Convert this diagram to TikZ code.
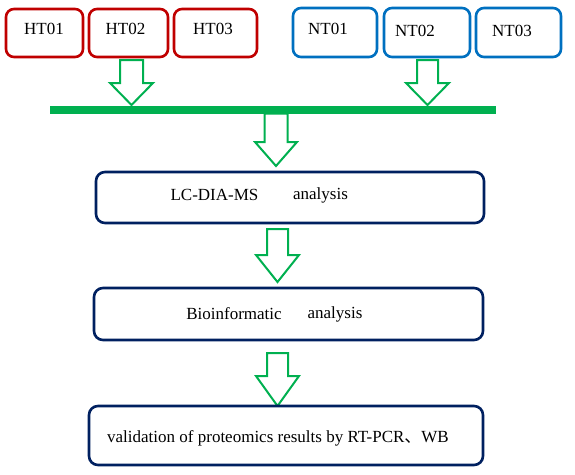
\documentclass[tikz,border=0pt]{standalone}
\usepackage{fontspec}
\setmainfont{Liberation Serif}
\newfontfamily\cjk{Noto Sans CJK SC}
\definecolor{htred}{HTML}{C00000}
\definecolor{ntblue}{HTML}{0070C0}
\definecolor{navy}{HTML}{002060}
\definecolor{grn}{HTML}{00B050}
\newcommand{\blockarrow}[6]{% x, ytop, yhead, ytip, half shaft, half head
  \draw[hollowarrow] (#1-#5,#2) -- (#1+#5,#2) -- (#1+#5,#3) -- (#1+#6,#3) -- (#1,#4) -- (#1-#6,#3) -- (#1-#5,#3) -- cycle;}
\begin{document}
\begin{tikzpicture}[x=1pt,y=-1pt,
  smallbox/.style={draw, line width=2.6pt, rounded corners=8pt, fill=white, inner sep=0pt},
  bigbox/.style={draw=navy, line width=2.6pt, rounded corners=9pt, fill=white, inner sep=0pt},
  txt/.style={font=\rmfamily\fontsize{17}{19}\selectfont, inner sep=0pt},
  hollowarrow/.style={draw=grn, line width=2pt, fill=white, line join=miter}]
\useasboundingbox (0,0) rectangle (575,474);
\node[smallbox, draw=htred, minimum width=77pt, minimum height=48pt] (ht1) at (44.5,33) {};
\node[smallbox, draw=htred, minimum width=79pt, minimum height=48pt] (ht2) at (128.5,33) {};
\node[smallbox, draw=htred, minimum width=83pt, minimum height=48pt] (ht3) at (215.5,33) {};
\node[smallbox, draw=ntblue, minimum width=84pt, minimum height=49pt] (nt1) at (335,32.5) {};
\node[smallbox, draw=ntblue, minimum width=86pt, minimum height=49pt] (nt2) at (427,32.5) {};
\node[smallbox, draw=ntblue, minimum width=85pt, minimum height=49pt] (nt3) at (518.5,32.5) {};
\node[txt] (ht1t) at (44,29) {HT01};
\node[txt] (ht2t) at (125.5,29) {HT02};
\node[txt] (ht3t) at (213,29) {HT03};
\node[txt] (nt1t) at (328,29) {NT01};
\node[txt] (nt2t) at (415,31) {NT02};
\node[txt] (nt3t) at (512,31) {NT03};
\blockarrow{131.5}{60}{83}{105}{11.5}{21.5}
\blockarrow{427.5}{60}{83}{105}{10.5}{21.5}
\node[fill=grn, minimum width=446pt, minimum height=8pt, inner sep=0pt] (bar) at (273,109.5) {};
\blockarrow{276}{113.5}{142}{166}{11.5}{21}
\node[bigbox, minimum width=388pt, minimum height=51pt] (b1) at (290,197.5) {};
\node[txt] (b1a) at (214.5,195) {LC-DIA-MS};
\node[txt] (b1b) at (320.5,195) {analysis};
\blockarrow{277.5}{229}{255}{282}{10.5}{21.5}
\node[bigbox, minimum width=389pt, minimum height=52pt] (b2) at (288.5,314) {};
\node[txt] (b2a) at (234,314) {Bioinformatic};
\node[txt] (b2b) at (335,314) {analysis};
\blockarrow{277.5}{353}{376}{406}{10.5}{21.5}
\node[bigbox, minimum width=394pt, minimum height=59pt] (b3) at (286,435.5) {};
\node[txt] (b3t) at (278,438) {validation of proteomics results by RT-PCR{\cjk 、}WB};
\end{tikzpicture}
\end{document}
